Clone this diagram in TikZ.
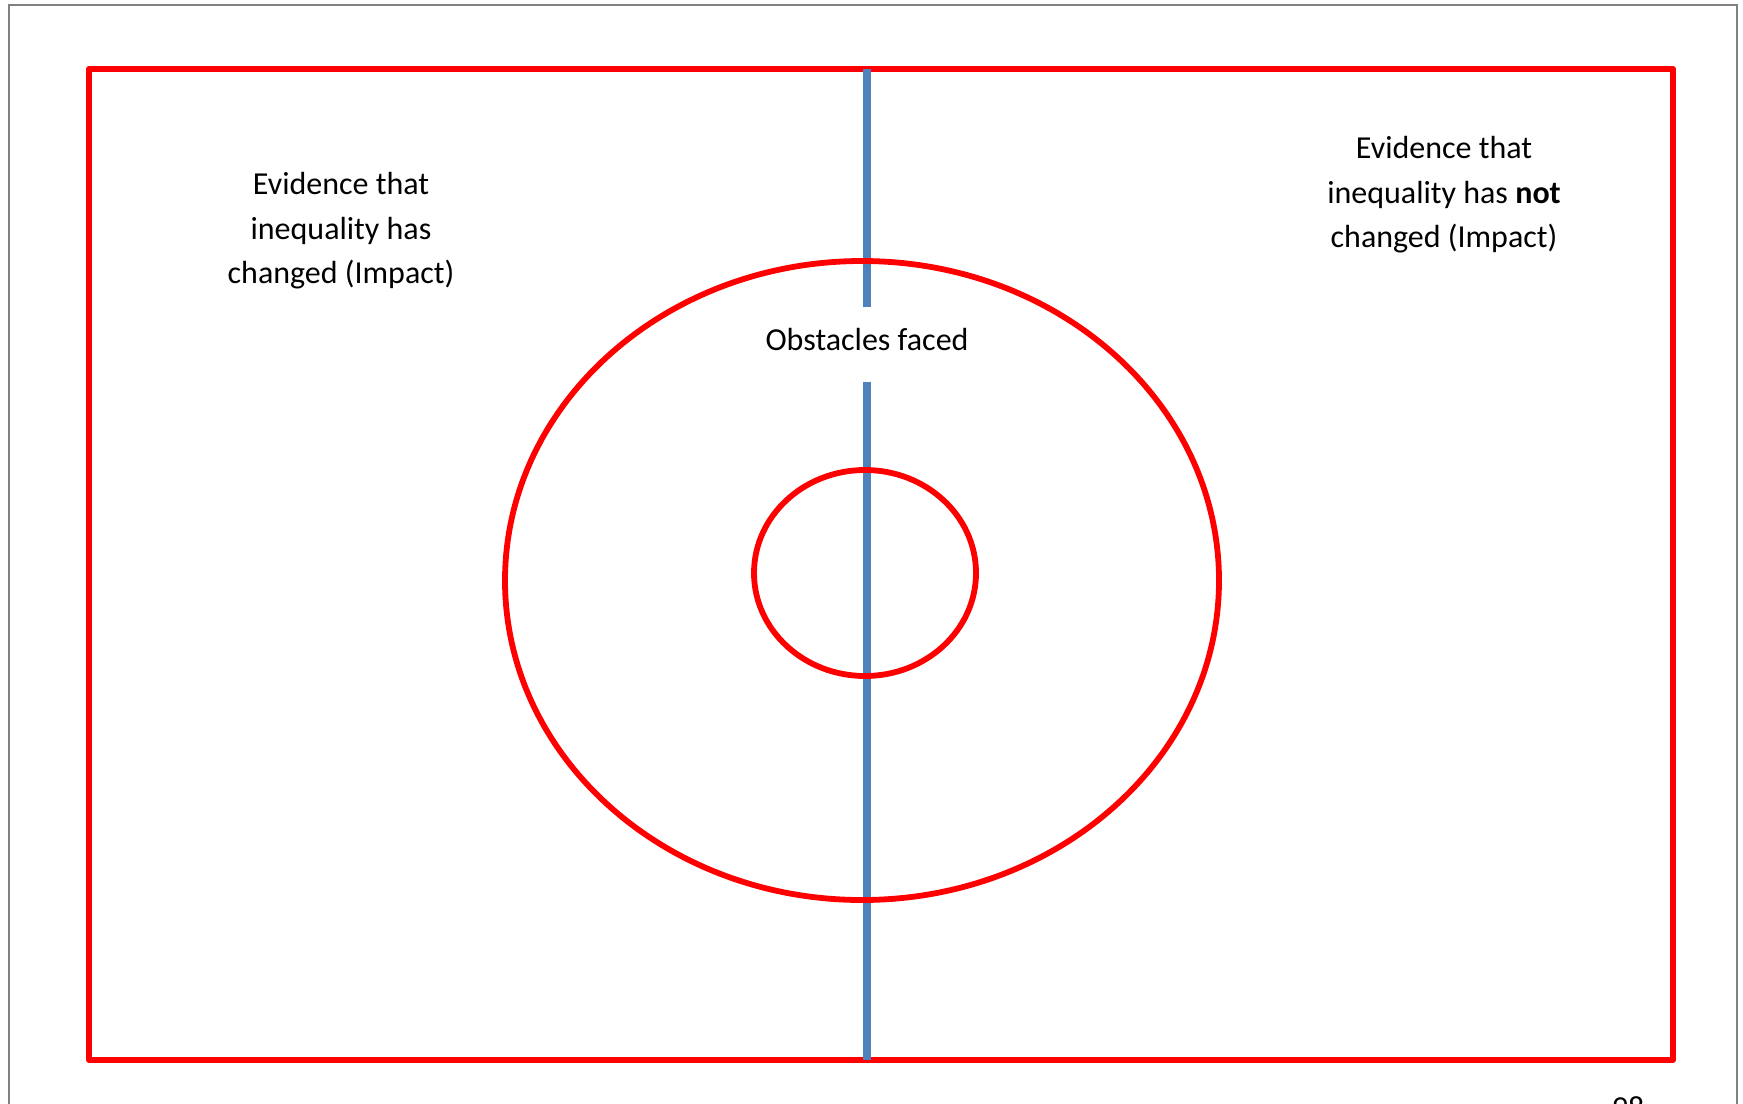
\documentclass[tikz,border=0pt]{standalone}
\usepackage{fontspec}
\setmainfont{Carlito}
\usepackage{tikz}
\usetikzlibrary{positioning}
\definecolor{Frame}{HTML}{FF0000}
\definecolor{Split}{HTML}{4F81BD}
\definecolor{Page}{HTML}{808080}

\begin{document}
\begin{tikzpicture}[x=0.01cm,y=-0.01cm,
    redline/.style={draw=Frame,line width=1.65pt},
    blueline/.style={draw=Split,line width=2.1pt},
    lbl/.style={font=\fontsize{9.1pt}{12.66pt}\selectfont,align=center,inner sep=0pt}]
        \useasboundingbox (0,0) rectangle (1743,1103);
        \clip (0,0) rectangle (1743,1103);
        \fill[white] (0,0) rectangle (1743,1103);
        \draw[Page,line width=0.45pt] (9,1110) -- (9,5) -- (1737,5) -- (1737,1110);
        % frame and the split line
        \draw[redline,line join=round] (89,69) rectangle (1673,1060);
        \coordinate (ftop) at (867,69);
        \coordinate (fbot) at (867,1060);
        \node[lbl,anchor=base,text height=0.2cm,text depth=0.09cm,inner ysep=0.22cm]
              (obst) at (867,350) {Obstacles faced};
        \draw[blueline] (ftop) -- (obst.north);
        \draw[blueline] (obst.south) -- (fbot);
        % rings
        \draw[redline] (862,580.5) ellipse (357 and 319.5);
        \draw[redline] (865,573) ellipse (111 and 103);
        \node[lbl] (yes) at (341,231) {Evidence that\\inequality has\\changed (Impact)};
        \node[lbl] (no) at (1444,195) {Evidence that\\inequality has \textbf{not}\\changed (Impact)};
        \node[lbl,anchor=base] (pg) at (1628,1118) {98};
      \end{tikzpicture}
\end{document}
